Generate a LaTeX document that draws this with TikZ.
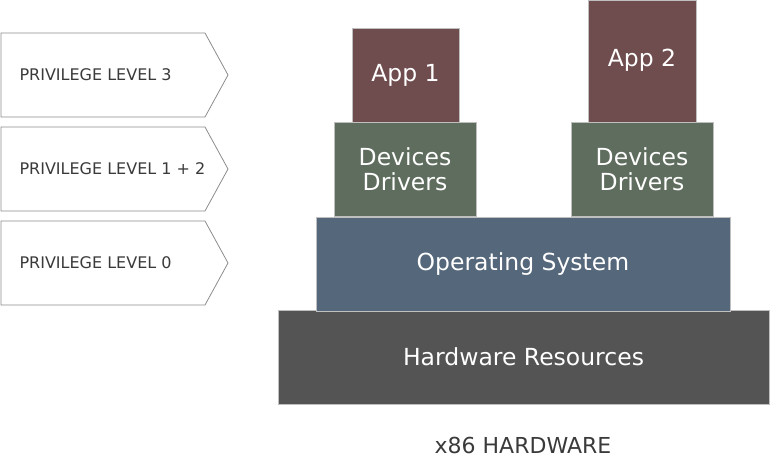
\documentclass[tikz,border=0pt]{standalone}
\usepackage{fontspec}
\setmainfont{DejaVu Sans}
\definecolor{appc}{HTML}{6F4C4E}
\definecolor{drvc}{HTML}{5F6D5E}
\definecolor{osc}{HTML}{55677A}
\definecolor{hwc}{HTML}{555454}
\definecolor{lblc}{HTML}{3A3A3A}
\begin{document}
\begin{tikzpicture}[x=1pt,y=-1pt,
  blk/.style={draw=black!25,line width=0.6pt,text=white,font=\fontsize{23.5}{25}\selectfont,align=center},
  lvl/.style={draw=black!45,line width=0.8pt,fill=white},
  lvltext/.style={text=lblc,font=\fontsize{16}{18}\selectfont,anchor=west}]
\useasboundingbox (0,0) rectangle (770,458);
% levels
\foreach \n/\y/\t in {l3/33/PRIVILEGE LEVEL 3, l12/127/PRIVILEGE LEVEL 1 + 2, l0/221/PRIVILEGE LEVEL 0}{
  \draw[lvl] (1,\y) -- (205,\y) -- (228,\y+42) -- (205,\y+84) -- (1,\y+84) -- cycle;
  \node[lvltext] (\n) at (16,\y+42) {\t};
}
% blocks
\node[blk,fill=hwc,minimum width=491pt,minimum height=94pt] (hw) at (523.5,357) {Hardware Resources};
\node[blk,fill=osc,minimum width=414pt,minimum height=94pt] (os) at (523,264) {Operating System};
\node[blk,fill=drvc,minimum width=142pt,minimum height=94pt] (d1) at (405,169) {Devices\\Drivers};
\node[blk,fill=drvc,minimum width=142pt,minimum height=94pt] (d2) at (642,169) {Devices\\Drivers};
\node[blk,fill=appc,minimum width=107pt,minimum height=94pt] (a1) at (405.5,75) {App 1};
\node[blk,fill=appc,minimum width=108pt,minimum height=122pt] (a2) at (642,61) {};
\node[text=white,font=\fontsize{23.5}{25}\selectfont] (a2t) at (642,60) {App 2};
\node[text=lblc,font=\fontsize{22}{24}\selectfont] (x86) at (523,445) {x86 HARDWARE};
\end{tikzpicture}
\end{document}
